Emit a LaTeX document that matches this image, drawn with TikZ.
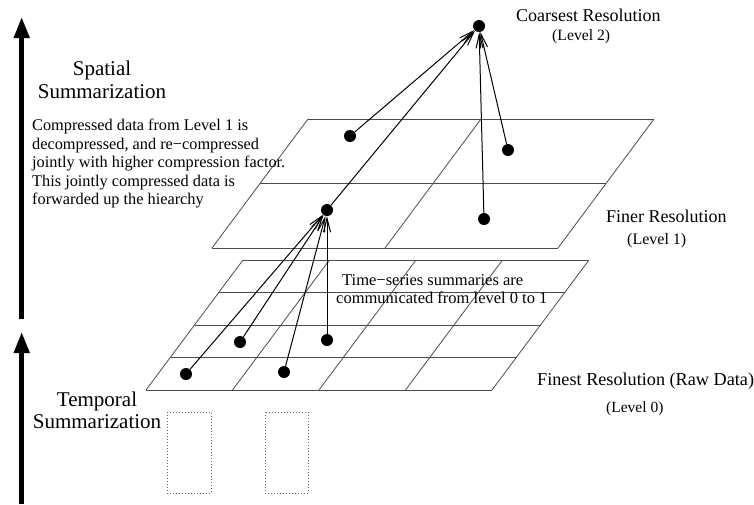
\documentclass[tikz,border=0pt]{standalone}
\usepackage{fontspec}
\setmainfont{Liberation Serif}
\usetikzlibrary{arrows.meta}
\begin{document}
\begin{tikzpicture}[x=1pt,y=-1pt,
  dot/.style={circle,fill=black,inner sep=0pt,minimum size=12pt},
  gridline/.style={line width=0.8pt,black!70},
  conn/.style={line width=1pt,-{Straight Barb[length=14pt,width=7pt]}},
  bigarrow/.style={line width=4.5pt,-{Triangle[length=21pt,width=15pt]}},
  lbl/.style={inner sep=0pt,anchor=base west},
  dotbox/.style={draw=black!60,line width=0.8pt,dash pattern=on 1pt off 2pt}]
\useasboundingbox (0,0) rectangle (754,504);
% left arrows
\coordinate (s1) at (21.7,319);
\coordinate (e1) at (21.7,17);
\coordinate (s2) at (21.7,504);
\coordinate (e2) at (21.7,332);
\draw[bigarrow] (s1) -- (e1);
\draw[bigarrow] (s2) -- (e2);
% level 0 grid
\foreach \i in {0,...,4} \draw[gridline] ({146+24.25*\i},{390-32.5*\i}) -- ++(346,0);
\foreach \j in {0,...,4} \draw[gridline] ({146+86.5*\j},390) -- ++(97,-130);
% level 1 grid
\foreach \i in {0,1,2} \draw[gridline] ({212+48*\i},{248-64.5*\i}) -- ++(346,0);
\foreach \j in {0,1,2} \draw[gridline] ({212+173*\j},248) -- ++(96,-129);
% dots
\node[dot] (t) at (479,26) {};
\node[dot] (a) at (350,136) {};
\node[dot] (b) at (508,150) {};
\node[dot] (c) at (327,210) {};
\node[dot] (d) at (484,219) {};
\node[dot] (p) at (186,374) {};
\node[dot] (q) at (240,342) {};
\node[dot] (r) at (284,372) {};
\node[dot] (s) at (327,340) {};
% connectors
\draw[conn] (a) -- (t);
\draw[conn] (c) -- (t);
\draw[conn] (d) -- (t);
\draw[conn] (b) -- (t);
\draw[conn] (p) -- (c);
\draw[conn] (q) -- (c);
\draw[conn] (r) -- (c);
\draw[conn] (s) -- (c);
% dotted boxes
\draw[dotbox] (167,412) rectangle (211,493);
\draw[dotbox] (265,412) rectangle (308,493);
% texts
\node[inner sep=0pt,anchor=north,align=center,font=\fontsize{21}{23}\selectfont] (sp) at (102,61) {Spatial\\Summarization};
\node[inner sep=0pt,anchor=north,align=center,font=\fontsize{21}{22}\selectfont] (tp) at (97,392) {Temporal\\Summarization};
\node[inner sep=0pt,anchor=north west,align=left,font=\fontsize{16.3}{18.5}\selectfont] (para) at (32,119) {Compressed data from Level 1 is\\decompressed, and re−compressed\\jointly with higher compression factor.\\This jointly compressed data is\\forwarded up the hiearchy};
\node[inner sep=0pt,anchor=north west,align=left,font=\fontsize{16.5}{18}\selectfont] (ts) at (336,274) {\hspace*{6pt}Time−series summaries are\\communicated from level 0 to 1};
\node[lbl,font=\fontsize{18}{20}\selectfont] (cr) at (516,21.5) {Coarsest Resolution};
\node[lbl,font=\fontsize{15.7}{18}\selectfont] (l2) at (552,40.5) {(Level 2)};
\node[lbl,font=\fontsize{18}{20}\selectfont] (fr) at (606,222.5) {Finer Resolution};
\node[lbl,font=\fontsize{16}{18}\selectfont] (l1) at (627,244) {(Level 1)};
\node[lbl,font=\fontsize{18.2}{20}\selectfont] (fn) at (537,385) {Finest Resolution (Raw Data)};
\node[lbl,font=\fontsize{15.5}{18}\selectfont] (l0) at (606,412) {(Level 0)};
\end{tikzpicture}
\end{document}
